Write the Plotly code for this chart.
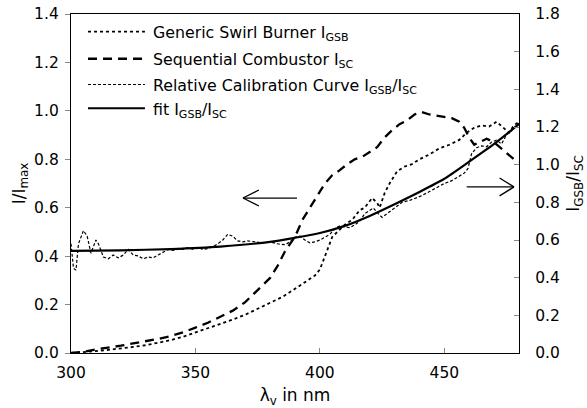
import plotly.graph_objects as go

# ---- data ----
gsb_wl = [300, 305, 310, 315, 320, 325, 330, 335, 340, 345, 350, 355, 360, 365, 370, 375, 380, 385, 390, 395, 398,
          400, 403, 405, 408, 410, 413, 416, 418, 421, 423, 424, 426, 428, 431, 434, 437, 440, 444, 448, 452, 456,
          459, 462, 465, 468, 471, 474, 476, 478, 480]
gsb_val = [0.0, 0.003, 0.008, 0.013, 0.018, 0.025, 0.032, 0.042, 0.053, 0.067, 0.085, 0.100, 0.118, 0.138, 0.158,
           0.182, 0.205, 0.232, 0.265, 0.300, 0.320, 0.345, 0.43, 0.48, 0.51, 0.53, 0.55, 0.59, 0.60, 0.64, 0.62,
           0.60, 0.66, 0.70, 0.75, 0.77, 0.78, 0.80, 0.82, 0.845, 0.86, 0.88, 0.91, 0.93, 0.94, 0.935, 0.955, 0.93,
           0.91, 0.94, 0.955]

sc_wl = [300, 305, 310, 315, 320, 325, 330, 335, 340, 345, 350, 355, 360, 365, 370, 375, 380, 383, 386, 390, 393,
         396, 399, 402, 405, 408, 411, 414, 417, 420, 423, 426, 429, 432, 435, 438, 441, 444, 447, 450, 453, 456,
         458, 460, 462, 464, 467, 470, 473, 476, 478, 480]
sc_val = [0.0, 0.005, 0.015, 0.022, 0.030, 0.040, 0.048, 0.058, 0.070, 0.085, 0.105, 0.125, 0.150, 0.175, 0.210,
          0.260, 0.310, 0.360, 0.420, 0.480, 0.550, 0.600, 0.650, 0.700, 0.735, 0.755, 0.780, 0.800, 0.810, 0.830,
          0.850, 0.890, 0.920, 0.945, 0.960, 0.985, 0.995, 0.985, 0.980, 0.975, 0.970, 0.955, 0.930, 0.890, 0.860,
          0.870, 0.885, 0.870, 0.845, 0.820, 0.800, 0.790]

rel_wl = [300, 301, 302, 303, 305, 306.5, 308, 310, 311, 313, 315, 317, 319, 321, 323, 325, 327, 329, 331, 333,
          335, 337, 339, 341, 343, 345, 347, 349, 351, 353, 355, 357, 359, 361, 363, 365, 367, 369, 371, 374, 377,
          380, 383, 386, 388, 390, 392, 394, 396, 398, 400, 402, 404, 406, 408, 410, 412, 414, 416, 418, 420,
          421.5, 423, 425, 427, 430, 433, 436, 440, 443, 447, 450, 453, 456, 458, 459.5, 461, 463, 465, 467, 469,
          471, 473, 475, 477, 480]
rel_val = [0.58, 0.45, 0.44, 0.58, 0.65, 0.62, 0.53, 0.60, 0.58, 0.51, 0.50, 0.52, 0.505, 0.52, 0.55, 0.52, 0.515,
           0.50, 0.51, 0.505, 0.52, 0.535, 0.55, 0.545, 0.555, 0.55, 0.56, 0.55, 0.56, 0.55, 0.555, 0.565, 0.58,
           0.60, 0.63, 0.62, 0.595, 0.59, 0.595, 0.59, 0.585, 0.59, 0.58, 0.575, 0.59, 0.615, 0.62, 0.60, 0.585,
           0.59, 0.60, 0.615, 0.63, 0.66, 0.675, 0.67, 0.665, 0.68, 0.70, 0.74, 0.755, 0.77, 0.745, 0.72, 0.74,
           0.77, 0.80, 0.81, 0.83, 0.85, 0.88, 0.90, 0.915, 0.94, 0.955, 0.98, 1.06, 1.09, 1.10, 1.095, 1.12, 1.13,
           1.11, 1.16, 1.18, 1.22]

fit_wl = [300, 320, 340, 360, 380, 390, 400, 410, 420, 430, 440, 450, 460, 470, 480]
fit_val = [0.542, 0.545, 0.552, 0.565, 0.590, 0.612, 0.637, 0.675, 0.728, 0.790, 0.855, 0.925, 1.016, 1.110, 1.215]

x_ticks = [300, 350, 400, 450]
y_ticks = [0.0, 0.2, 0.4, 0.6, 0.8, 1.0, 1.2, 1.4]
y2_ticks = [0.0, 0.2, 0.4, 0.6, 0.8, 1.0, 1.2, 1.4, 1.6, 1.8]

names = ["Generic Swirl Burner I<sub>GSB</sub>",
         "Sequential Combustor I<sub>SC</sub>",
         "Relative Calibration Curve I<sub>GSB</sub>/I<sub>SC</sub>",
         "fit I<sub>GSB</sub>/I<sub>SC</sub>"]

FONT = "DejaVu Sans, sans-serif"
styles = [dict(color="black", width=1.8, dash="dot"),
          dict(color="black", width=2.3, dash="9px,6px"),
          dict(color="black", width=1.2, dash="3px,2px"),
          dict(color="black", width=2.2)]

fig = go.Figure()
fig.add_trace(go.Scatter(x=gsb_wl, y=gsb_val, mode="lines", name=names[0], line=styles[0]))
fig.add_trace(go.Scatter(x=sc_wl, y=sc_val, mode="lines", name=names[1], line=styles[1]))
fig.add_trace(go.Scatter(x=rel_wl, y=rel_val, mode="lines", yaxis="y2", name=names[2], line=styles[2]))
fig.add_trace(go.Scatter(x=fit_wl, y=fit_val, mode="lines", yaxis="y2", name=names[3],
                         line=dict(styles[3], shape="spline", smoothing=0.6)))

shapes = []
annotations = []

# arrows (decorations)
def arrow(x0, x1, y, yref, hx, hy):
    d = 1 if x1 > x0 else -1
    lw = dict(color="black", width=1.3)
    return [
        dict(type="line", xref="x", yref=yref, x0=x0, x1=x1, y0=y, y1=y, line=lw),
        dict(type="line", xref="x", yref=yref, x0=x1, x1=x1 - d * hx, y0=y, y1=y + hy, line=lw),
        dict(type="line", xref="x", yref=yref, x0=x1, x1=x1 - d * hx, y0=y, y1=y - hy, line=lw),
    ]
shapes += arrow(390.8, 369.1, 0.64, "y", 6.4, 0.033)
shapes += arrow(459.0, 478.0, 0.686, "y", 5.8, 0.037)

# manual legend (long line samples like the reference)
leg_rows = [0.948, 0.868, 0.792, 0.722]
for nm, st, yy in zip(names, styles, leg_rows):
    shapes.append(dict(type="line", xref="paper", yref="paper", x0=0.038, x1=0.165, y0=yy, y1=yy, line=st))
    annotations.append(dict(xref="paper", yref="paper", x=0.178, y=yy - 0.006, xanchor="left", yanchor="middle",
                            text=nm, showarrow=False, font=dict(family=FONT, size=15.8, color="black")))

fig.update_layout(
    width=587, height=408,
    margin=dict(l=71, r=68, t=14, b=55),
    paper_bgcolor="white", plot_bgcolor="white",
    font=dict(family=FONT, size=15, color="black"),
    showlegend=False,
    xaxis=dict(range=[300, 480], tickvals=x_ticks, ticks="inside", ticklen=5, tickcolor="#888",
               showline=True, linecolor="black", linewidth=1.3, mirror=True, showgrid=False, zeroline=False,
               tickfont=dict(size=15.5), ticklabelstandoff=5, automargin=False,
               title=dict(text="λ<sub>v</sub> in nm", font=dict(size=17), standoff=18)),
    yaxis=dict(range=[0, 1.4], tickvals=y_ticks, tickformat=".1f", ticks="outside", ticklen=5, tickcolor="#888",
               showline=True, linecolor="black", linewidth=1.3, showgrid=False, zeroline=False,
               tickfont=dict(size=15.5), ticklabelstandoff=3, automargin=False,
               title=dict(text="I/I<sub>max</sub>", font=dict(size=17), standoff=4)),
    yaxis2=dict(range=[0, 1.8], tickvals=y2_ticks, tickformat=".1f", overlaying="y", side="right",
                ticks="inside", ticklen=5, tickcolor="#888", showline=True, linecolor="black", linewidth=1.3,
                showgrid=False, zeroline=False, tickfont=dict(size=15.5), ticklabelstandoff=12, automargin=False,
                title=dict(text="I<sub>GSB</sub>/I<sub>SC</sub>", font=dict(size=17), standoff=8)),
    shapes=shapes,
    annotations=annotations,
)

fig.write_html("out.html")
